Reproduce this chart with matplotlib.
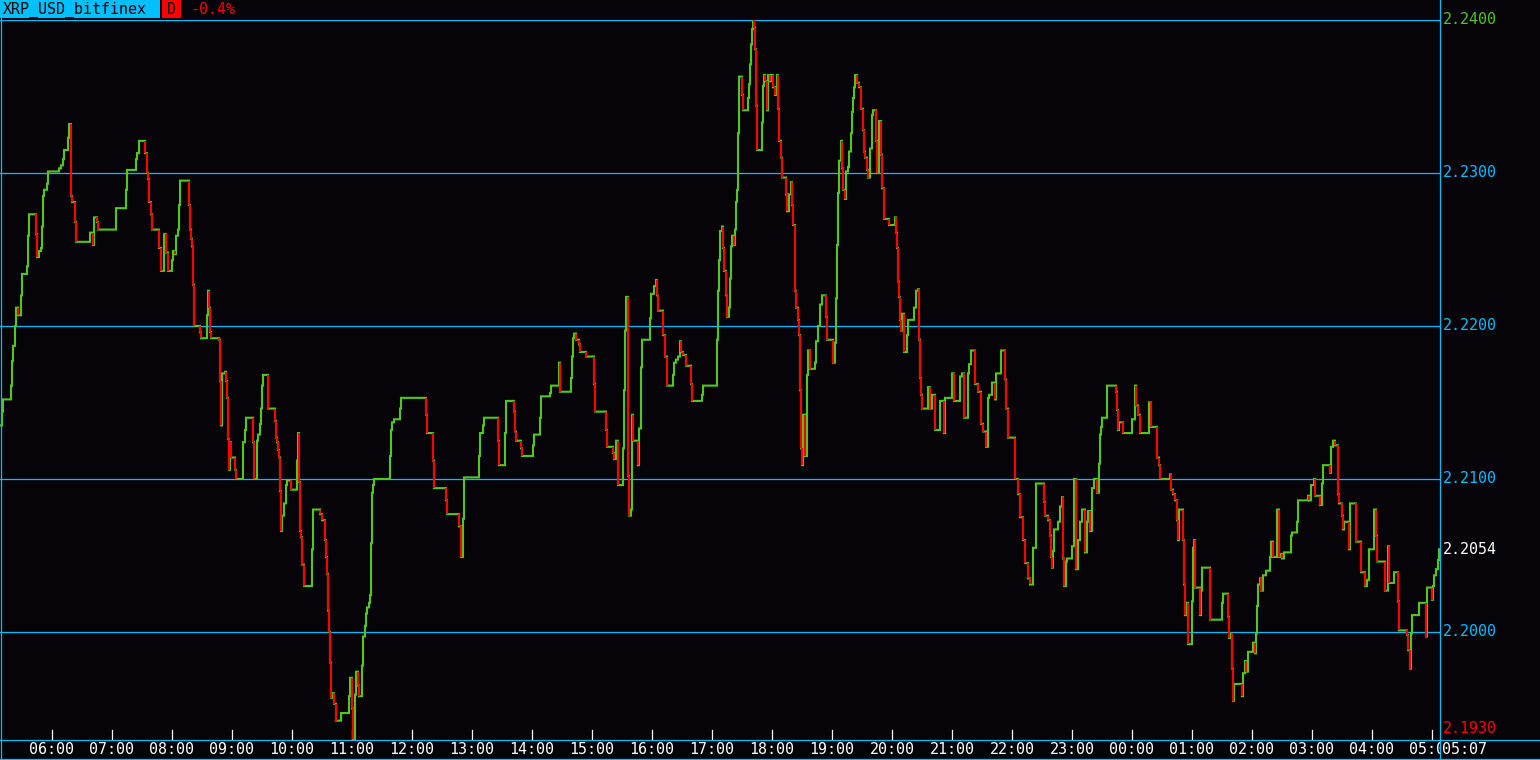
#!/usr/bin/env python3
"""Intraday XRP/USD step chart in a dark terminal style, saved as out.png."""

import matplotlib

matplotlib.use("Agg")

import matplotlib.pyplot as plt
import numpy as np
from matplotlib.lines import Line2D
from matplotlib.patches import Rectangle
from matplotlib.transforms import Bbox

_W, _H, _DPI = 1540, 760, 100
_BG = "#060409"
_CYAN = "#00bfff"
_GREEN = "#50c81e"
_RED = "#ff0000"
_WHITE = "#ffffff"
_FONT = "DejaVu Sans Mono"
_FS = 10.8
_LW = 1.5

SYMBOL = "XRP_USD_bitfinex"
TIMEFRAME = "D"
CHANGE = "-0.4%"
START_TIME = "05:08"
LAST_TIME = "05:07"

# minutes after START_TIME where the traded price changes
minutes = [
    0, 2, 3, 11, 12, 13, 15, 16, 18, 21, 22, 27, 28, 29, 36, 37, 39, 41, 42, 43,
    44, 47, 48, 59, 61, 63, 64, 68, 69, 71, 72, 75, 76, 90, 93, 94, 97, 98, 116, 126,
    127, 136, 137, 139, 145, 147, 148, 149, 151, 152, 159, 161, 164, 166, 168, 172, 173, 175, 176, 178,
    179, 180, 189, 190, 191, 192, 193, 194, 200, 201, 207, 208, 209, 210, 211, 219, 220, 221, 222, 225,
    226, 227, 228, 229, 230, 231, 235, 236, 243, 245, 246, 253, 254, 257, 258, 260, 261, 262, 263, 268,
    275, 276, 277, 278, 279, 280, 281, 282, 284, 286, 287, 291, 297, 298, 299, 300, 301, 302, 304, 312,
    313, 320, 322, 325, 326, 327, 328, 329, 330, 331, 333, 334, 336, 341, 349, 350, 352, 353, 355, 356,
    358, 359, 362, 363, 365, 366, 367, 369, 370, 371, 372, 373, 374, 390, 391, 392, 394, 400, 401, 426,
    427, 433, 434, 446, 447, 459, 461, 463, 464, 479, 480, 483, 484, 498, 499, 505, 506, 514, 515, 516,
    521, 522, 533, 534, 540, 541, 550, 551, 559, 560, 571, 572, 573, 574, 576, 579, 580, 586, 594, 595,
    606, 607, 613, 614, 616, 618, 623, 624, 625, 626, 628, 629, 631, 632, 633, 638, 639, 641, 642, 650,
    651, 654, 656, 657, 658, 663, 665, 667, 673, 674, 676, 678, 680, 681, 683, 686, 691, 692, 702, 703,
    717, 718, 719, 720, 722, 723, 724, 726, 727, 729, 730, 731, 732, 734, 735, 736, 737, 738, 739, 742,
    743, 748, 749, 750, 751, 752, 753, 754, 755, 756, 757, 762, 763, 764, 765, 767, 768, 770, 771, 773,
    775, 777, 778, 779, 781, 782, 786, 787, 789, 791, 792, 793, 795, 796, 798, 799, 800, 801, 802, 803,
    805, 807, 808, 810, 815, 816, 818, 820, 822, 826, 827, 833, 835, 836, 837, 838, 839, 841, 842, 843,
    845, 846, 848, 849, 851, 852, 853, 854, 855, 857, 859, 861, 863, 864, 865, 867, 868, 870, 872, 873,
    876, 877, 879, 881, 882, 884, 889, 895, 896, 897, 898, 899, 900, 901, 902, 904, 907, 908, 914, 916,
    918, 919, 920, 921, 922, 928, 930, 932, 935, 940, 944, 945, 952, 954, 960, 962, 964, 968, 969, 971,
    975, 978, 981, 983, 986, 988, 989, 992, 995, 996, 1001, 1005, 1006, 1008, 1015, 1018, 1020, 1023, 1025, 1028,
    1030, 1033, 1036, 1044, 1045, 1048, 1050, 1051, 1052, 1053, 1054, 1058, 1060, 1062, 1063, 1064, 1066, 1067, 1072, 1074,
    1076, 1078, 1080, 1082, 1085, 1087, 1088, 1090, 1092, 1094, 1097, 1099, 1100, 1101, 1102, 1107, 1116, 1117, 1118, 1119,
    1123, 1132, 1135, 1136, 1138, 1140, 1149, 1151, 1157, 1159, 1160, 1170, 1171, 1173, 1175, 1177, 1178, 1179, 1183, 1184,
    1185, 1187, 1188, 1192, 1193, 1194, 1195, 1200, 1201, 1202, 1210, 1222, 1223, 1228, 1229, 1231, 1232, 1233, 1234, 1242,
    1243, 1245, 1246, 1248, 1253, 1255, 1256, 1257, 1258, 1260, 1261, 1263, 1266, 1270, 1271, 1273, 1277, 1279, 1281, 1282,
    1284, 1291, 1292, 1297, 1298, 1308, 1309, 1311, 1314, 1315, 1320, 1322, 1323, 1330, 1331, 1333, 1335, 1338, 1339, 1342,
    1343, 1344, 1349, 1350, 1356, 1361, 1365, 1367, 1369, 1374, 1376, 1377, 1385, 1388, 1389, 1394, 1398, 1399, 1407, 1408,
    1410, 1411, 1412, 1419, 1426, 1427, 1432, 1433, 1434, 1436, 1438, 1439,
]

prices = [
    2.2135, 2.2144, 2.2152, 2.2161, 2.2177, 2.2187, 2.2200, 2.2212, 2.2207, 2.2220,
    2.2234, 2.2239, 2.2259, 2.2273, 2.2260, 2.2245, 2.2249, 2.2251, 2.2265, 2.2285,
    2.2289, 2.2293, 2.2301, 2.2303, 2.2305, 2.2309, 2.2315, 2.2323, 2.2332, 2.2285,
    2.2281, 2.2268, 2.2255, 2.2261, 2.2253, 2.2271, 2.2268, 2.2263, 2.2277, 2.2289,
    2.2302, 2.2309, 2.2313, 2.2321, 2.2313, 2.2300, 2.2296, 2.2281, 2.2273, 2.2263,
    2.2251, 2.2236, 2.2260, 2.2248, 2.2236, 2.2243, 2.2249, 2.2247, 2.2259, 2.2263,
    2.2279, 2.2295, 2.2279, 2.2263, 2.2257, 2.2252, 2.2227, 2.2200, 2.2196, 2.2192,
    2.2207, 2.2223, 2.2212, 2.2196, 2.2192, 2.2191, 2.2164, 2.2135, 2.2169, 2.2170,
    2.2164, 2.2153, 2.2126, 2.2106, 2.2124, 2.2114, 2.2106, 2.2100, 2.2124, 2.2132,
    2.2140, 2.2124, 2.2100, 2.2125, 2.2129, 2.2136, 2.2146, 2.2161, 2.2168, 2.2146,
    2.2138, 2.2127, 2.2124, 2.2119, 2.2114, 2.2092, 2.2066, 2.2076, 2.2084, 2.2096,
    2.2099, 2.2093, 2.2112, 2.2130, 2.2098, 2.2066, 2.2062, 2.2044, 2.2030, 2.2054,
    2.2080, 2.2077, 2.2073, 2.2060, 2.2049, 2.2038, 2.2014, 2.2000, 2.1980, 2.1957,
    2.1960, 2.1953, 2.1942, 2.1947, 2.1958, 2.1970, 2.1950, 2.1930, 2.1959, 2.1974,
    2.1965, 2.1958, 2.1978, 2.1997, 2.2004, 2.2012, 2.2016, 2.2019, 2.2024, 2.2058,
    2.2091, 2.2096, 2.2100, 2.2115, 2.2132, 2.2137, 2.2139, 2.2146, 2.2153, 2.2142,
    2.2130, 2.2112, 2.2094, 2.2086, 2.2077, 2.2069, 2.2049, 2.2074, 2.2101, 2.2115,
    2.2130, 2.2135, 2.2140, 2.2125, 2.2109, 2.2130, 2.2151, 2.2144, 2.2131, 2.2125,
    2.2120, 2.2115, 2.2122, 2.2129, 2.2140, 2.2154, 2.2156, 2.2161, 2.2176, 2.2157,
    2.2166, 2.2180, 2.2192, 2.2195, 2.2191, 2.2188, 2.2183, 2.2180, 2.2162, 2.2144,
    2.2132, 2.2121, 2.2117, 2.2113, 2.2125, 2.2096, 2.2120, 2.2158, 2.2197, 2.2219,
    2.2102, 2.2076, 2.2080, 2.2142, 2.2125, 2.2109, 2.2133, 2.2173, 2.2191, 2.2205,
    2.2221, 2.2226, 2.2230, 2.2220, 2.2210, 2.2194, 2.2180, 2.2161, 2.2168, 2.2176,
    2.2178, 2.2180, 2.2190, 2.2183, 2.2181, 2.2174, 2.2162, 2.2151, 2.2155, 2.2161,
    2.2191, 2.2223, 2.2243, 2.2262, 2.2265, 2.2251, 2.2236, 2.2220, 2.2206, 2.2212,
    2.2231, 2.2252, 2.2259, 2.2253, 2.2263, 2.2281, 2.2289, 2.2326, 2.2363, 2.2351,
    2.2341, 2.2349, 2.2358, 2.2371, 2.2384, 2.2394, 2.2400, 2.2395, 2.2381, 2.2344,
    2.2315, 2.2333, 2.2357, 2.2364, 2.2360, 2.2341, 2.2364, 2.2360, 2.2364, 2.2356,
    2.2351, 2.2364, 2.2342, 2.2321, 2.2310, 2.2297, 2.2286, 2.2275, 2.2286, 2.2294,
    2.2279, 2.2266, 2.2223, 2.2212, 2.2204, 2.2194, 2.2158, 2.2120, 2.2109, 2.2142,
    2.2115, 2.2168, 2.2184, 2.2172, 2.2176, 2.2190, 2.2200, 2.2214, 2.2220, 2.2206,
    2.2191, 2.2176, 2.2189, 2.2218, 2.2253, 2.2287, 2.2308, 2.2321, 2.2303, 2.2289,
    2.2283, 2.2301, 2.2304, 2.2314, 2.2326, 2.2340, 2.2349, 2.2356, 2.2364, 2.2359,
    2.2356, 2.2342, 2.2328, 2.2314, 2.2310, 2.2302, 2.2297, 2.2316, 2.2338, 2.2341,
    2.2321, 2.2300, 2.2334, 2.2312, 2.2290, 2.2270, 2.2266, 2.2271, 2.2261, 2.2251,
    2.2229, 2.2219, 2.2204, 2.2197, 2.2208, 2.2183, 2.2194, 2.2204, 2.2212, 2.2223,
    2.2224, 2.2191, 2.2166, 2.2155, 2.2146, 2.2160, 2.2146, 2.2155, 2.2132, 2.2151,
    2.2130, 2.2153, 2.2169, 2.2151, 2.2167, 2.2169, 2.2140, 2.2169, 2.2175, 2.2184,
    2.2162, 2.2157, 2.2136, 2.2131, 2.2121, 2.2153, 2.2155, 2.2163, 2.2152, 2.2169,
    2.2184, 2.2165, 2.2146, 2.2127, 2.2100, 2.2090, 2.2075, 2.2060, 2.2045, 2.2035,
    2.2031, 2.2055, 2.2097, 2.2085, 2.2076, 2.2073, 2.2063, 2.2049, 2.2042, 2.2053,
    2.2067, 2.2072, 2.2082, 2.2088, 2.2048, 2.2030, 2.2046, 2.2048, 2.2056, 2.2100,
    2.2041, 2.2060, 2.2072, 2.2080, 2.2052, 2.2072, 2.2079, 2.2066, 2.2094, 2.2100,
    2.2091, 2.2110, 2.2129, 2.2134, 2.2140, 2.2161, 2.2157, 2.2145, 2.2132, 2.2137,
    2.2130, 2.2139, 2.2161, 2.2148, 2.2142, 2.2130, 2.2150, 2.2134, 2.2114, 2.2109,
    2.2100, 2.2103, 2.2093, 2.2090, 2.2086, 2.2073, 2.2060, 2.2080, 2.2060, 2.2031,
    2.2011, 2.2019, 2.1992, 2.2020, 2.2055, 2.2060, 2.2029, 2.2011, 2.2027, 2.2042,
    2.2008, 2.2019, 2.2025, 2.2010, 2.1996, 2.1999, 2.1976, 2.1955, 2.1966, 2.1958,
    2.1973, 2.1981, 2.1974, 2.1987, 2.1993, 2.1986, 2.1999, 2.2017, 2.2031, 2.2035,
    2.2027, 2.2037, 2.2040, 2.2049, 2.2059, 2.2049, 2.2080, 2.2049, 2.2051, 2.2048,
    2.2052, 2.2063, 2.2065, 2.2072, 2.2086, 2.2089, 2.2086, 2.2096, 2.2100, 2.2089,
    2.2083, 2.2097, 2.2109, 2.2104, 2.2121, 2.2125, 2.2122, 2.2090, 2.2084, 2.2076,
    2.2067, 2.2072, 2.2054, 2.2084, 2.2059, 2.2039, 2.2030, 2.2034, 2.2054, 2.2080,
    2.2063, 2.2046, 2.2027, 2.2056, 2.2032, 2.2039, 2.2020, 2.2001, 2.1998, 2.1988,
    2.1976, 2.1999, 2.2011, 2.2019, 2.1997, 2.2029, 2.2021, 2.2030, 2.2037, 2.2041,
    2.2047, 2.2054,
]

grid_levels = [2.2000, 2.2100, 2.2200, 2.2300]
price_high = 2.2400
price_low = 2.1930
price_last = 2.2054
hour_labels = [
    "06:00", "07:00", "08:00", "09:00", "10:00", "11:00", "12:00", "13:00",
    "14:00", "15:00", "16:00", "17:00", "18:00", "19:00", "20:00", "21:00",
    "22:00", "23:00", "00:00", "01:00", "02:00", "03:00", "04:00", "05:00",
]


def _fx(px: float) -> float:
    return px / _W


def _fy(px: float) -> float:
    return 1.0 - px / _H


def _to_min(hhmm: str) -> int:
    h, m = hhmm.split(":")
    return int(h) * 60 + int(m)


def _fig_line(fig, x0, y0, x1, y1, color=_CYAN, lw=0.9) -> None:
    fig.add_artist(
        Line2D([_fx(x0), _fx(x1)], [_fy(y0), _fy(y1)], transform=fig.transFigure,
               color=color, lw=lw, zorder=5)
    )


def main() -> int:
    t = np.asarray(minutes, dtype=float)
    p = np.asarray(prices, dtype=float)

    fig = plt.figure(figsize=(_W / _DPI, _H / _DPI), dpi=_DPI, facecolor=_BG)
    ax = fig.add_axes([0.0, 20 / _H, 1440 / _W, 720 / _H])
    ax.set_facecolor(_BG)
    ax.set_xlim(0, 1440)
    span = (price_high - price_low) * 720 / 719
    ax.set_ylim(price_high - span, price_high)
    ax.set_xticks([])
    ax.set_yticks([])
    for s in ax.spines.values():
        s.set_visible(False)

    # horizontal price grid
    for lvl in grid_levels + [price_high]:
        ax.axhline(lvl, color=_CYAN, lw=0.9, zorder=1)

    # step line: flats and up-moves green, down-moves red
    ax.step(t, p, where="post", color=_GREEN, lw=_LW, zorder=3, solid_joinstyle="miter")
    down = np.where(np.diff(p) < 0)[0]
    ax.vlines(t[down + 1], p[down], p[down + 1], color=_RED, lw=_LW, zorder=4)

    # hour ticks and labels; labels are cut at the price-scale border
    start = _to_min(START_TIME)
    xt = ax.get_xaxis_transform()
    clip = Bbox([[0, 0], [1440, _H]])
    for lab in hour_labels:
        pos = (_to_min(lab) - start) % 1440
        ax.plot([pos, pos], [0, 10 / 720], color=_WHITE, lw=0.9, transform=xt, zorder=2)
        txt = ax.text(pos, -10 / 720, lab, transform=xt, ha="center", va="center",
                      color=_WHITE, fontsize=_FS, family=_FONT)
        txt.set_clip_box(clip)
        txt.set_clip_on(True)

    # right price scale
    yt = ax.get_yaxis_transform()
    for lvl in grid_levels:
        ax.text(1443 / 1440, lvl, f"{lvl:.4f}", transform=yt, ha="left", va="center",
                color=_CYAN, fontsize=_FS, family=_FONT, clip_on=False)
    ax.text(1443 / 1440, price_high, f"{price_high:.4f}", transform=yt, ha="left",
            va="center", color=_GREEN, fontsize=_FS, family=_FONT, clip_on=False)
    ax.text(1443 / 1440, price_last, f"{price_last:.4f}", transform=yt, ha="left",
            va="center", color=_WHITE, fontsize=_FS, family=_FONT, clip_on=False)
    ax.annotate(f"{price_low:.4f}", xy=(1443 / 1440, price_low), xycoords=yt,
                xytext=(0, 4.5), textcoords="offset points", ha="left", va="baseline",
                color=_RED, fontsize=_FS, family=_FONT, annotation_clip=False)

    # header
    fig.add_artist(Rectangle((_fx(0), _fy(18)), _fx(160), 18 / _H, transform=fig.transFigure,
                             facecolor=_CYAN, edgecolor="none", zorder=5))
    fig.add_artist(Rectangle((_fx(162), _fy(18)), _fx(19), 18 / _H, transform=fig.transFigure,
                             facecolor=_RED, edgecolor="none", zorder=5))
    fig.text(_fx(3), _fy(9.5), SYMBOL, ha="left", va="center", color="black",
             fontsize=_FS, family=_FONT, zorder=6)
    fig.text(_fx(171.5), _fy(9.5), TIMEFRAME, ha="center", va="center", color="black",
             fontsize=_FS, family=_FONT, zorder=6)
    fig.text(_fx(190), _fy(9.5), CHANGE, ha="left", va="center", color=_RED,
             fontsize=_FS, family=_FONT, zorder=6)

    # last time on the price scale
    fig.text(_fx(1442), _fy(750), LAST_TIME, ha="left", va="center", color=_WHITE,
             fontsize=_FS, family=_FONT, zorder=6)

    # frame lines
    _fig_line(fig, 0.5, 18, 0.5, 760)
    _fig_line(fig, 1440, 0, 1440, 760)
    _fig_line(fig, 0, 740, 1540, 740)
    _fig_line(fig, 0, 759, 1540, 759)

    fig.savefig("out.png", dpi=_DPI, facecolor=_BG)
    plt.close(fig)
    return 0


if __name__ == "__main__":
    raise SystemExit(main())
